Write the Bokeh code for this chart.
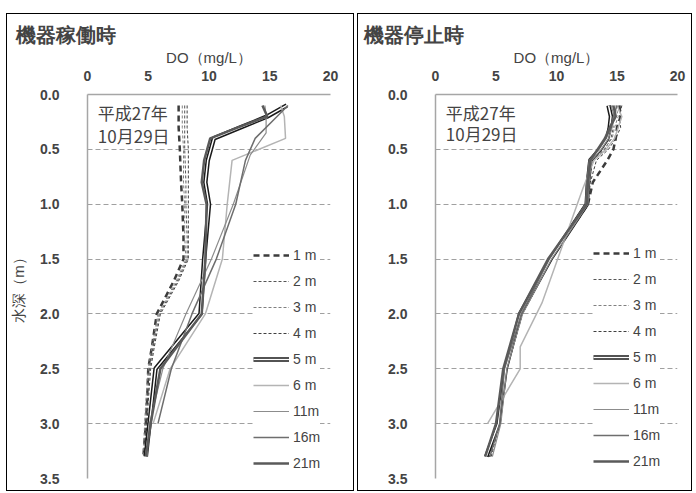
from bokeh.plotting import figure
from bokeh.models import Range1d, FixedTicker, NumeralTickFormatter, Legend, LegendItem, Label
from bokeh.layouts import row
from bokeh.embed import file_html
from bokeh.resources import INLINE

# ---------------- data: 機器稼働時 (operating) ----------------
op_depth_a = [0.1, 0.3, 0.5, 0.8, 1.0, 1.3, 1.5, 1.7, 2.0, 2.3, 2.5, 2.8, 3.0, 3.3]
op_1m = [7.5, 7.5, 7.6, 7.7, 7.8, 7.9, 7.9, 7.1, 5.7, 5.3, 5.0, 4.9, 4.8, 4.6]
op_2m = [8.0, 8.0, 8.0, 8.1, 8.1, 8.2, 8.2, 7.4, 5.9, 5.4, 5.1, 4.9, 4.8, 4.7]
op_3m = [7.8, 7.8, 7.9, 7.9, 8.0, 8.0, 8.1, 7.3, 5.8, 5.3, 5.0, 4.8, 4.7, 4.6]
op_4m = [8.2, 8.2, 8.3, 8.3, 8.3, 8.3, 8.3, 7.5, 6.0, 5.5, 5.2, 5.0, 4.9, 4.7]

op_depth_b = [0.1, 0.2, 0.3, 0.4, 0.6, 0.8, 1.0, 1.5, 2.0, 2.5, 3.0, 3.3]
op_5m = [16.4, 14.8, 12.6, 10.4, 9.9, 9.7, 10.0, 9.6, 9.3, 5.6, 5.1, 4.8]
op_21m = [14.4, 14.8, 12.4, 10.1, 9.6, 9.4, 9.8, 9.7, 9.4, 6.0, 5.2, 4.8]

op_depth_6m = [0.1, 0.2, 0.4, 0.6, 1.0, 1.5, 2.0, 2.5, 3.0]
op_6m = [15.9, 16.2, 16.3, 11.9, 11.5, 11.1, 9.7, 6.8, 5.4]
op_depth_11m = [0.1, 0.2, 0.35, 0.55, 1.0, 1.5, 2.0, 2.5, 3.0, 3.3]
op_11m = [14.6, 14.7, 14.7, 13.4, 12.0, 10.2, 8.1, 6.2, 5.1, 4.9]
op_depth_16m = [0.1, 0.2, 0.4, 0.6, 1.0, 1.5, 2.0, 2.5, 3.0]
op_16m = [16.5, 15.6, 13.8, 13.0, 12.2, 10.6, 8.6, 6.9, 5.8]

# ---------------- data: 機器停止時 (stopped) ----------------
st_depth = [0.1, 0.2, 0.3, 0.4, 0.5, 0.6, 0.8, 1.0, 1.5, 2.0, 2.5, 3.0, 3.3]
st_1m = [15.2, 15.3, 15.0, 14.9, 14.7, 14.2, 13.0, 12.6, 9.5, 7.1, 5.8, 5.3, 4.4]
st_2m = [14.6, 14.4, 14.7, 14.5, 14.0, 13.0, 12.7, 12.5, 9.4, 7.0, 5.7, 5.2, 4.5]
st_3m = [14.9, 15.1, 14.8, 14.6, 13.9, 12.9, 12.6, 12.4, 9.3, 6.9, 5.6, 5.1, 4.3]
st_4m = [15.4, 15.2, 15.3, 14.9, 14.3, 13.3, 12.8, 12.6, 9.6, 7.2, 5.9, 5.3, 4.6]
st_5m = [14.3, 14.5, 14.4, 14.2, 13.6, 12.8, 12.6, 12.5, 9.5, 7.0, 5.8, 5.2, 4.2]
st_depth_6m = [0.1, 0.2, 0.3, 0.4, 0.5, 0.6, 0.85, 1.9, 2.3, 2.5, 3.0]
st_6m = [15.0, 15.4, 15.1, 14.8, 14.1, 13.1, 12.2, 8.8, 7.0, 7.0, 4.3]
st_11m = [14.5, 14.8, 14.6, 14.3, 13.7, 12.9, 12.7, 12.6, 9.6, 7.2, 5.9, 5.4, 4.7]
st_16m = [15.0, 14.7, 14.5, 14.1, 13.5, 12.7, 12.5, 12.4, 9.4, 7.1, 5.7, 5.3, 4.5]
st_21m = [14.7, 14.9, 14.4, 14.0, 13.4, 12.8, 12.6, 12.5, 9.3, 6.9, 5.6, 5.0, 4.1]

x_ticks = [0, 5, 10, 15, 20]
y_ticks = [0.0, 0.5, 1.0, 1.5, 2.0, 2.5, 3.0, 3.5]
series_labels = ["1 m", "2 m", "3 m", "4 m", "5 m", "6 m", "11m", "16m", "21m"]

JP = "Noto Sans CJK JP"
LAT = "Liberation Sans"

styles = {
    "1 m": dict(line_color="#3c3c3c", line_width=2.5, line_dash="6 4"),
    "2 m": dict(line_color="#555555", line_width=1, line_dash="3 2"),
    "3 m": dict(line_color="#808080", line_width=1, line_dash="3 2"),
    "4 m": dict(line_color="#404040", line_width=1, line_dash="3 2"),
    "6 m": dict(line_color="#b4b4b4", line_width=1.5),
    "11m": dict(line_color="#8c8c8c", line_width=1.2),
    "16m": dict(line_color="#6e6e6e", line_width=1.5),
    "21m": dict(line_color="#5a5a5a", line_width=2.5),
}


def make_panel(title, series, b_left, b_right, b_top, b_bottom, frame_w,
               legend_x, legend_y, ylabel, date_y):
    p = figure(x_range=Range1d(0, 20), y_range=Range1d(3.5, 0),
               frame_width=frame_w, frame_height=384,
               min_border_left=b_left, min_border_right=b_right,
               min_border_top=b_top, min_border_bottom=b_bottom,
               x_axis_location="above", title=title,
               output_backend="svg", toolbar_location=None)
    p.outline_line_color = None
    p.background_fill_color = "white"
    p.border_fill_color = "white"
    p.styles = {"outline": "1px solid black"}

    p.title.text_font = LAT
    p.title.text_font_size = "20px"
    p.title.text_font_style = "bold"
    p.title.align = "left"
    p.title.offset = -72
    p.title.standoff = 0

    xa = p.xaxis[0]
    xa.ticker = FixedTicker(ticks=x_ticks)
    xa.axis_label = "DO（mg/L）"
    xa.axis_label_text_font = LAT
    xa.axis_label_text_font_size = "15px"
    xa.axis_label_text_font_style = "normal"
    xa.axis_label_standoff = 2
    xa.major_label_text_font = LAT
    xa.major_label_text_font_style = "bold"
    xa.major_label_text_font_size = "14px"
    xa.major_label_standoff = 14
    xa.major_tick_in = 0
    xa.major_tick_out = 0
    xa.minor_tick_in = 0
    xa.minor_tick_out = 0
    xa.axis_line_color = "#a6a6a6"
    xa.axis_line_width = 1.5

    ya = p.yaxis[0]
    ya.ticker = FixedTicker(ticks=y_ticks)
    ya.formatter = NumeralTickFormatter(format="0.0")
    ya.major_label_text_font = LAT
    ya.major_label_text_font_style = "bold"
    ya.major_label_text_font_size = "14px"
    ya.major_label_standoff = 28
    ya.major_tick_in = 0
    ya.major_tick_out = 0
    ya.minor_tick_in = 0
    ya.minor_tick_out = 0
    ya.axis_line_color = "#a6a6a6"
    ya.axis_line_width = 1.5
    if ylabel:
        ya.axis_label = ylabel
        ya.axis_label_text_font = LAT
        ya.axis_label_text_font_size = "15px"
        ya.axis_label_text_font_style = "normal"
        ya.axis_label_standoff = 10

    p.xgrid.grid_line_color = None
    p.ygrid.ticker = FixedTicker(ticks=y_ticks)
    p.ygrid.grid_line_color = "#a0a0a0"
    p.ygrid.grid_line_dash = "5 3"
    p.ygrid.grid_line_width = 1

    items = []
    for lab in series_labels:
        depths, vals = series[lab]
        if lab == "5 m":
            r1 = p.line(vals, depths, line_color="#1a1a1a", line_width=4.5)
            r2 = p.line(vals, depths, line_color="white", line_width=1.5)
            items.append(LegendItem(label=lab, renderers=[r1, r2]))
        else:
            r = p.line(vals, depths, **styles[lab])
            items.append(LegendItem(label=lab, renderers=[r]))

    legend = Legend(items=items, location=(legend_x, legend_y), padding=4, margin=0,
                    spacing=8, glyph_width=36, glyph_height=18, label_height=18,
                    label_standoff=4, border_line_color=None,
                    background_fill_color="white", background_fill_alpha=1.0,
                    label_text_font=LAT, label_text_font_size="14px")
    p.add_layout(legend)

    p.add_layout(Label(x=0.85, y=date_y[0], text="平成27年", text_font=JP,
                       text_font_size="17px", text_baseline="middle"))
    p.add_layout(Label(x=0.85, y=date_y[1], text="10月29日", text_font=JP,
                       text_font_size="17px", text_baseline="middle"))
    return p


op_series = {
    "1 m": (op_depth_a, op_1m), "2 m": (op_depth_a, op_2m),
    "3 m": (op_depth_a, op_3m), "4 m": (op_depth_a, op_4m),
    "5 m": (op_depth_b, op_5m), "6 m": (op_depth_6m, op_6m),
    "11m": (op_depth_11m, op_11m), "16m": (op_depth_16m, op_16m),
    "21m": (op_depth_b, op_21m),
}
st_series = {
    "1 m": (st_depth, st_1m), "2 m": (st_depth, st_2m),
    "3 m": (st_depth, st_3m), "4 m": (st_depth, st_4m),
    "5 m": (st_depth, st_5m), "6 m": (st_depth_6m, st_6m),
    "11m": (st_depth, st_11m), "16m": (st_depth, st_16m),
    "21m": (st_depth, st_21m),
}

p1 = make_panel("機器稼働時", op_series, 80, 23, 78, 14, 243, 166, 6,
                "水深（m）", (0.165, 0.375))
p2 = make_panel("機器停止時", st_series, 77, 14, 80, 12, 242, 158, 8,
                None, (0.165, 0.36))

layout = row(p1, p2, spacing=5, margin=(14, 0, 0, 7))

open("out.html", "w").write(file_html(layout, INLINE))
